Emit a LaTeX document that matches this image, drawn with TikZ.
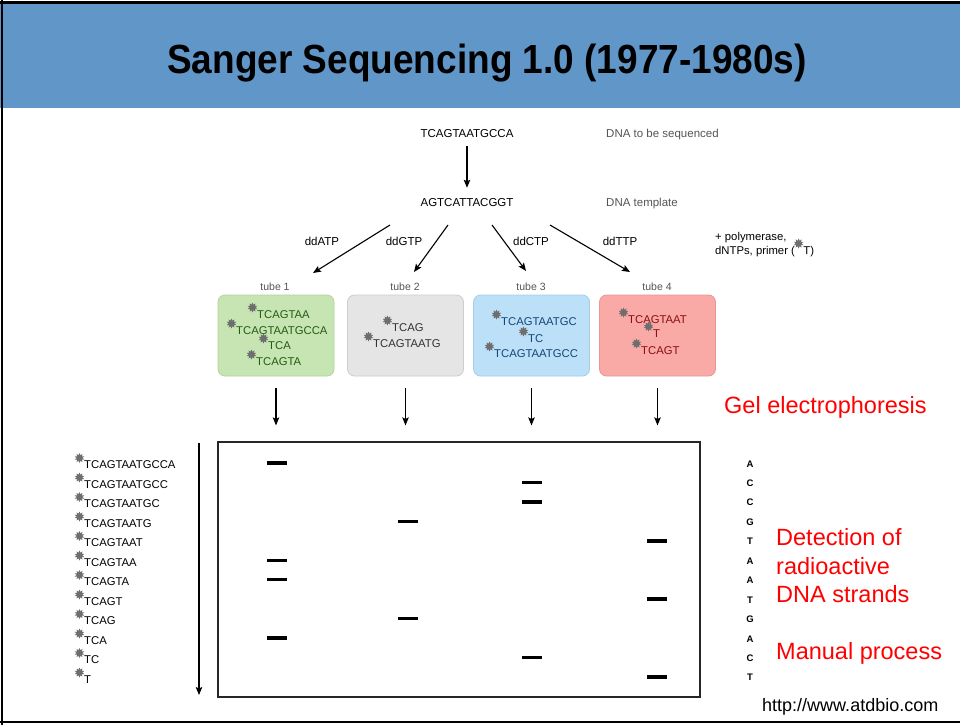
\documentclass[tikz,border=0pt]{standalone}
\usepackage{fontspec}
\setmainfont{Liberation Sans}
\usetikzlibrary{shapes.geometric,arrows.meta}
\definecolor{titleblue}{RGB}{97,150,200}
\definecolor{notegray}{RGB}{85,85,85}
\definecolor{stargray}{RGB}{110,110,110}
\definecolor{gfill}{RGB}{198,229,178}\definecolor{gdraw}{RGB}{178,212,158}\definecolor{gtext}{RGB}{40,90,20}
\definecolor{afill}{RGB}{229,229,229}\definecolor{adraw}{RGB}{205,205,205}\definecolor{atext}{RGB}{50,50,50}
\definecolor{bfill}{RGB}{188,224,247}\definecolor{bdraw}{RGB}{165,205,232}\definecolor{btext}{RGB}{20,70,120}
\definecolor{rfill}{RGB}{249,169,166}\definecolor{rdraw}{RGB}{232,150,148}\definecolor{rtext}{RGB}{140,15,15}
\definecolor{redtxt}{RGB}{255,0,0}
\newcommand\mystrand[4]{%
  \node[txt,text=#4] (#1) at (#2) {#3};
  \node[burst] at ([shift={(-4.5,-10.5)}]#1.base west) {};}
\begin{document}
\begin{tikzpicture}[x=1pt,y=-1pt,
  txt/.style={inner sep=0pt,anchor=base west,font=\fontsize{11.3}{13}\selectfont},
  seq/.style={inner sep=0pt,anchor=base,font=\fontsize{11.5}{13}\selectfont},
  note/.style={inner sep=0pt,anchor=base west,text=notegray,font=\fontsize{11.5}{13}\selectfont},
  lbl/.style={inner sep=0pt,anchor=base,font=\fontsize{11.5}{13}\selectfont},
  tubelbl/.style={inner sep=0pt,anchor=base,text=notegray,font=\fontsize{10.5}{12}\selectfont},
  burst/.style={star,star points=10,star point ratio=1.7,minimum size=10pt,inner sep=0pt,fill=stargray},
  tube/.style={rounded corners=7pt,minimum width=116pt,minimum height=81pt,inner sep=0pt,line width=0.8pt},
  arr/.style={line width=1.1pt,-{Stealth[length=8pt,width=6.5pt,inset=1.5pt]}},
  band/.style={fill=black,minimum width=20pt,minimum height=3.4pt,inner sep=0pt},
  letter/.style={inner sep=0pt,anchor=base,font=\bfseries\fontsize{9.5}{10}\selectfont},
  redlbl/.style={inner sep=0pt,anchor=base west,text=redtxt,font=\fontsize{23.5}{26}\selectfont}]
\useasboundingbox (0,0) rectangle (960,725);
\fill[white] (0,0) rectangle (960,725);
% frame and title band
\fill[titleblue] (0,4) rectangle (960,108);
\fill[black] (0,1) rectangle (960,4.5);
\fill[black] (0.5,0) rectangle (3,725);
\fill[black] (0,721) rectangle (960,723.2);
\node[inner sep=0pt,anchor=base,font=\bfseries\fontsize{37}{40}\selectfont] (title) at (487,74) {\scalebox{1}[1.1]{Sanger Sequencing 1.0 (1977-1980s)}};
% top part
\node[seq] (dna) at (467,137) {TCAGTAATGCCA};
\node[note] (dnal) at (606,137) {DNA to be sequenced};
\node[seq] (tmpl) at (467,206) {AGTCATTACGGT};
\node[note] (tmpll) at (606,206) {DNA template};
\draw[arr,shorten <=9pt,shorten >=10pt] (dna.south) -- (tmpl.north);
\coordinate (s1) at (390,225); \coordinate (e1) at (313,273);
\coordinate (s2) at (448,225); \coordinate (e2) at (414,272);
\coordinate (s3) at (492,225); \coordinate (e3) at (526,271);
\coordinate (s4) at (550,225); \coordinate (e4) at (630,272);
\draw[arr] (s1) -- (e1);
\draw[arr] (s2) -- (e2);
\draw[arr] (s3) -- (e3);
\draw[arr] (s4) -- (e4);
\node[lbl] (dA) at (322,245) {ddATP};
\node[lbl] (dG) at (404,245) {ddGTP};
\node[lbl] (dC) at (531,245) {ddCTP};
\node[lbl] (dT) at (620,245) {ddTTP};
\node[txt] (poly1) at (715,240) {+ polymerase,};
\node[txt] (poly2) at (715,254) {dNTPs, primer (};
\mystrand{poly3}{[xshift=8pt]poly2.base east}{T)}{black}
% tubes
\node[tubelbl] (l1) at (275,290) {tube 1};
\node[tubelbl] (l2) at (405,290) {tube 2};
\node[tubelbl] (l3) at (531,290) {tube 3};
\node[tubelbl] (l4) at (657,290) {tube 4};
\node[tube,fill=gfill,draw=gdraw] (tube1) at (276,335.5) {};
\node[tube,fill=afill,draw=adraw] (tube2) at (405.5,335.5) {};
\node[tube,fill=bfill,draw=bdraw] (tube3) at (531.5,335.5) {};
\node[tube,fill=rfill,draw=rdraw] (tube4) at (657.5,335.5) {};
\mystrand{t1a}{257,318}{TCAGTAA}{gtext}
\mystrand{t1b}{236,334}{TCAGTAATGCCA}{gtext}
\mystrand{t1c}{268,349}{TCA}{gtext}
\mystrand{t1d}{256,365}{TCAGTA}{gtext}
\mystrand{t2a}{392,331}{TCAG}{atext}
\mystrand{t2b}{373,347}{TCAGTAATG}{atext}
\mystrand{t3a}{501,325}{TCAGTAATGC}{btext}
\mystrand{t3b}{528,342}{TC}{btext}
\mystrand{t3c}{494,357}{TCAGTAATGCC}{btext}
\mystrand{t4a}{628,323}{TCAGTAAT}{rtext}
\mystrand{t4b}{653,337}{T}{rtext}
\mystrand{t4c}{641,354}{TCAGT}{rtext}
% gel
\node[draw=black!85,line width=1.2pt,minimum width=482pt,minimum height=255pt,inner sep=0pt] (gel) at (459,569.5) {};
\foreach \k in {1,2,3,4}
  \draw[arr,shorten <=12pt,shorten >=16pt] (tube\k.south) -- (tube\k.south |- gel.north);
\node[redlbl] (gelel) at (724,413.5) {Gel electrophoresis};
% bands
\foreach \r/\xx in {0/277,1/532,2/532,3/408,4/657,5/277,6/277,7/657,8/408,9/277,10/532,11/657}
  \node[band] (b\r) at (\xx,{463+19.45*\r}) {};
% left list
\foreach \t [count=\i from 0] in {TCAGTAATGCCA,TCAGTAATGCC,TCAGTAATGC,TCAGTAATG,TCAGTAAT,TCAGTAA,TCAGTA,TCAGT,TCAG,TCA,TC,T}
  {\mystrand{L\i}{84,{468.5+19.5*\i}}{\t}{black}}
\coordinate (ltop) at (199,443);
\coordinate (lbot) at (199,695);
\draw[arr] (ltop) -- (lbot);
% letters
\foreach \l [count=\i from 0] in {A,C,C,G,T,A,A,T,G,A,C,T}
  \node[letter] (R\i) at (750,{467+19.45*\i}) {\l};
% red notes
\node[redlbl] (det1) at (776,545.5) {Detection of};
\node[redlbl] (det2) at (776,574) {radioactive};
\node[redlbl] (det3) at (776,602.5) {DNA strands};
\node[redlbl] (man) at (776,659.5) {Manual process};
\node[inner sep=0pt,anchor=base west,font=\fontsize{18}{20}\selectfont] (url) at (762,711) {http://www.atdbio.com};
\end{tikzpicture}
\end{document}
